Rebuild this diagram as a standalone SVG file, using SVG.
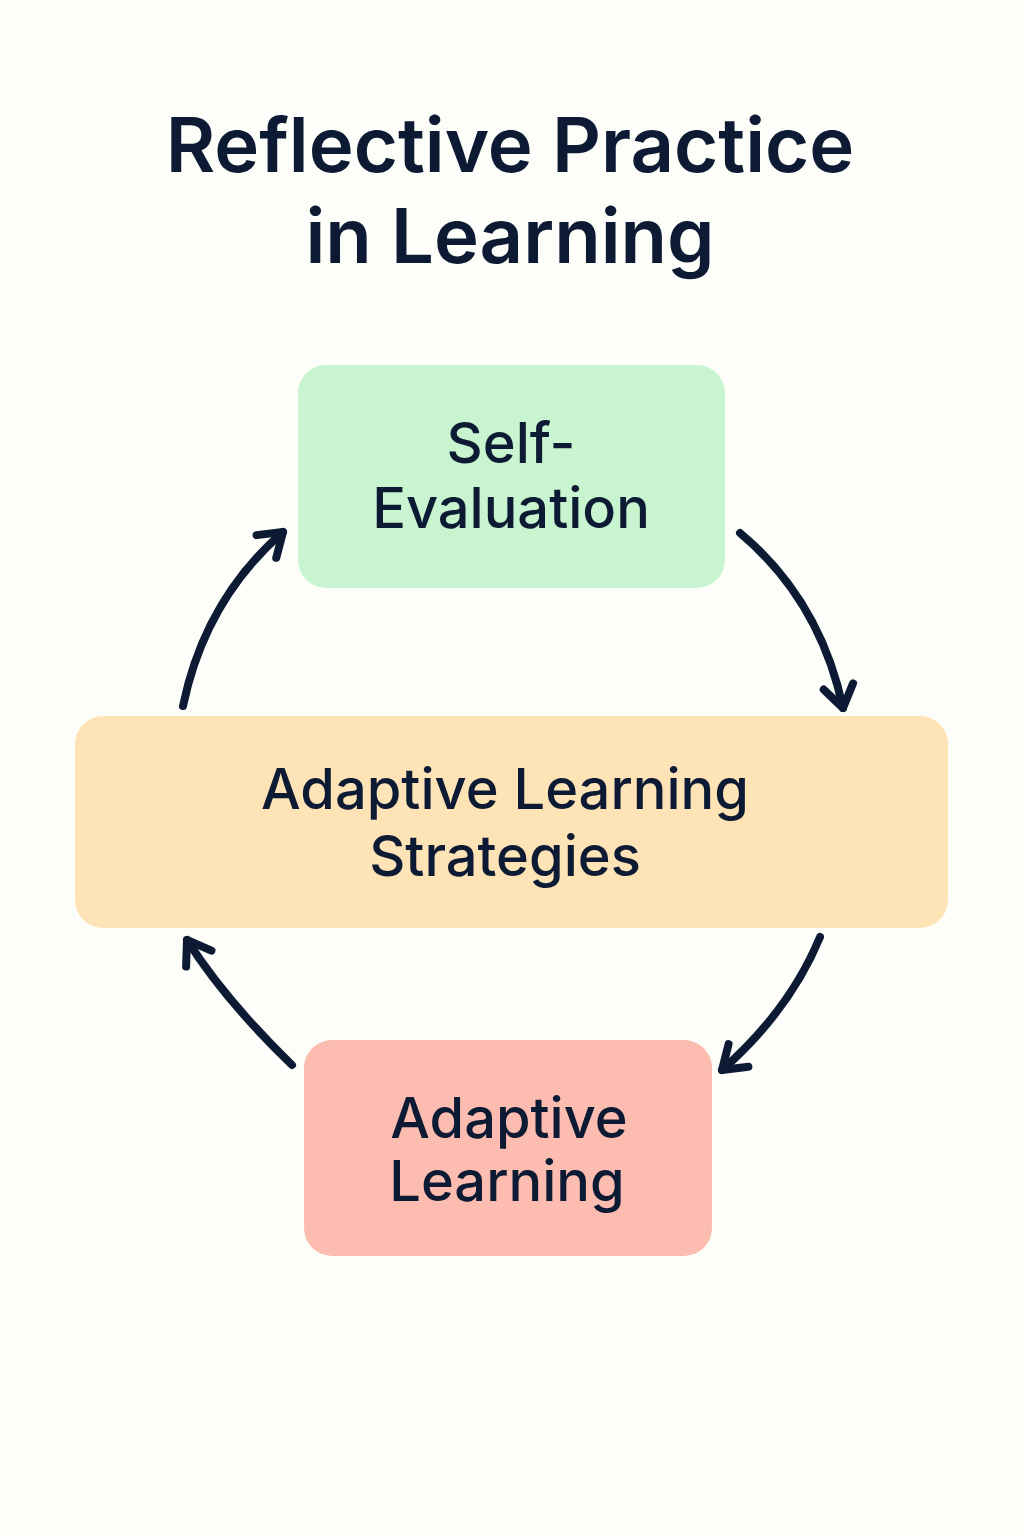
<svg xmlns="http://www.w3.org/2000/svg" width="1024" height="1536" viewBox="0 0 1024 1536">
<defs>
<style>
.t{font-family:Inter,"Noto Sans","Liberation Sans",sans-serif;fill:#0d1a33;text-anchor:middle}
.title{font-size:76px;font-weight:600}
.lbl{font-size:56px;font-weight:500}
.arr{fill:none;stroke:#0d1a33;stroke-width:8;stroke-linecap:round;marker-end:url(#ah)}
</style>
<marker id="ah" markerUnits="userSpaceOnUse" markerWidth="40" markerHeight="40" viewBox="-30 -20 40 40" refX="0" refY="0" orient="auto">
<path d="M-22,-15 L0,0 L-22,15" fill="none" stroke="#0d1a33" stroke-width="8" stroke-linecap="round" stroke-linejoin="round"/>
</marker>
</defs>
<rect width="1024" height="1536" fill="#fdfdf9"/>
<g id="title">
<text class="t title" x="510" y="172">Reflective Practice</text>
<text class="t title" x="510" y="263">in Learning</text>
</g>
<g id="connectors">
<path class="arr" d="M183,706 Q205,600 283,532"/>
<path class="arr" d="M740,533 Q820,600 843,708"/>
<path class="arr" d="M820,937 Q790,1010 722,1070"/>
<path class="arr" d="M292,1065 Q225,1000 187,940"/>
</g>
<g id="self-evaluation">
<rect x="298" y="365" width="427" height="223" rx="28" fill="#c8f5d0"/>
<text class="t lbl" x="511" y="463">Self-</text>
<text class="t lbl" x="511" y="528">Evaluation</text>
</g>
<g id="adaptive-learning-strategies">
<rect x="75" y="716" width="873" height="212" rx="28" fill="#fde3b5"/>
<text class="t lbl" x="505" y="809">Adaptive Learning</text>
<text class="t lbl" x="505" y="876">Strategies</text>
</g>
<g id="adaptive-learning">
<rect x="304" y="1040" width="408" height="216" rx="28" fill="#fdbcb0"/>
<text class="t lbl" x="509" y="1138">Adaptive</text>
<text class="t lbl" x="507" y="1201">Learning</text>
</g>
</svg>
